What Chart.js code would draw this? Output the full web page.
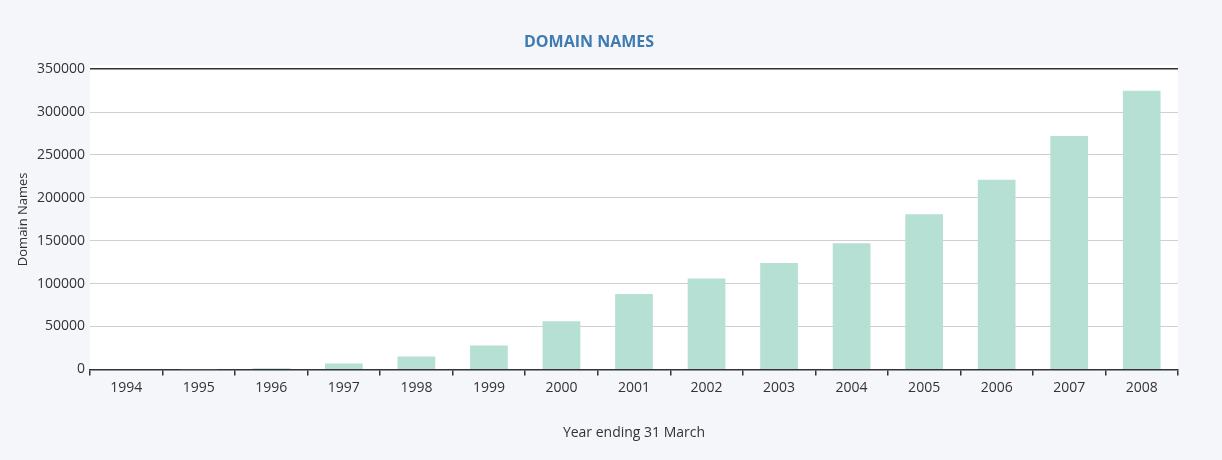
<!DOCTYPE html>
<html>
<head>
<meta charset="utf-8">
<script src="https://cdn.jsdelivr.net/npm/chart.js@4.4.1/dist/chart.umd.min.js"></script>
<style>
html,body{margin:0;padding:0;background:#f4f6fa;}
#wrap{width:1222px;height:460px;position:relative;}
</style>
</head>
<body>
<div id="wrap"><canvas id="c" width="1222" height="460"></canvas></div>
<script>
const years = ['1994','1995','1996','1997','1998','1999','2000','2001','2002','2003','2004','2005','2006','2007','2008'];
const domainNames = [0, 300, 1200, 7000, 15000, 28000, 56000, 88000, 106000, 124000, 147000, 181000, 221000, 272000, 325000];
const yTicks = [0, 50000, 100000, 150000, 200000, 250000, 300000, 350000];

const whiteArea = {
  id: 'whiteArea',
  beforeDraw(chart) {
    const {ctx, chartArea: a} = chart;
    ctx.save();
    ctx.fillStyle = '#ffffff';
    ctx.fillRect(a.left, a.top - 4, a.right - a.left, a.bottom - a.top + 4);
    ctx.restore();
  }
};

new Chart(document.getElementById('c'), {
  type: 'bar',
  data: {
    labels: years,
    datasets: [{
      label: 'Domain Names',
      data: domainNames,
      backgroundColor: '#b6e0d3',
      borderWidth: 0,
      barPercentage: 0.52,
      categoryPercentage: 1.0
    }]
  },
  plugins: [whiteArea],
  options: {
    responsive: false,
    animation: false,
    devicePixelRatio: 1,
    layout: {padding: {left: 0, right: 44, top: 8, bottom: 19}},
    plugins: {
      legend: {display: false},
      tooltip: {enabled: false},
      title: {
        display: true,
        text: 'DOMAIN NAMES',
        color: '#3f7bb0',
        font: {family: 'Open Sans', size: 16, weight: 'bold'},
        padding: {top: 25, bottom: 17}
      }
    },
    scales: {
      x: {
        grid: {
          display: true,
          offset: true,
          drawOnChartArea: false,
          drawTicks: true,
          tickLength: 6,
          color: '#333333',
          lineWidth: 1.5
        },
        border: {display: true, color: '#333333', width: 1.5},
        ticks: {
          color: '#333333',
          font: {family: 'Open Sans', size: 14},
          padding: 4,
          maxRotation: 0
        },
        title: {
          display: true,
          text: 'Year ending 31 March',
          color: '#333333',
          font: {family: 'Open Sans', size: 14},
          padding: {top: 24, bottom: 0}
        }
      },
      y: {
        min: 0,
        max: 350000,
        afterBuildTicks(scale) { scale.ticks = yTicks.map(v => ({value: v})); },
        afterFit(scale) { scale.width = 90; },
        grid: {
          drawTicks: false,
          color: ctx => ctx.tick && ctx.tick.value === 350000 ? '#333333' : '#cfcfcf',
          lineWidth: ctx => ctx.tick && ctx.tick.value === 350000 ? 1.5 : 1
        },
        border: {display: false},
        ticks: {
          color: '#333333',
          font: {family: 'Open Sans', size: 14},
          padding: 5,
          callback: v => String(v)
        },
        title: {
          display: true,
          text: 'Domain Names',
          color: '#333333',
          font: {family: 'Open Sans', size: 13},
          padding: {top: 15, bottom: 0}
        }
      }
    }
  }
});
</script>
</body>
</html>
